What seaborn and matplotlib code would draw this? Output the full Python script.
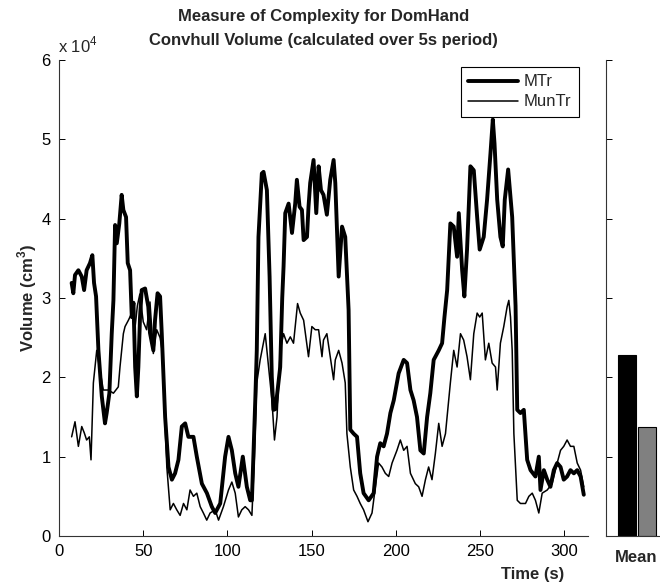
import matplotlib
matplotlib.use("Agg")
import matplotlib.pyplot as plt
import seaborn as sns
import pandas as pd

# ---------------- data (volume in units of 10^4 cm^3) ----------------
mtr_t = [7.5, 8.5, 9.5, 11.5, 13.5, 14.9, 16.4, 18.4, 19.8, 20.8, 22, 23.4, 25.4, 27.3, 28.3,
         29.9, 31.3, 32.3, 33.3, 34.3, 35.8, 37.2, 38.2, 39.8, 40.8, 42.2, 43.2, 44.2, 45.2,
         46.2, 47.1, 48.1, 49.1, 51.1, 53, 54, 56, 57, 58.5, 60, 61, 63, 65, 67, 68.9, 70.9,
         72.9, 74.9, 76.8, 79.8, 81.8, 84.8, 87.8, 90.7, 92.7, 95.7, 98.6, 100.6, 102.6,
         104.6, 106.5, 109.1, 111.5, 113.5, 114.5, 116.5, 117.4, 118.4, 120.4, 121.4, 123.4,
         125, 126.3, 127.3, 128.5, 131.3, 132.5, 133.3, 134.3, 136.3, 138.3, 140.2, 141.2,
         142.8, 144.2, 145.2, 147.2, 148.1, 149.1, 151.1, 152.7, 154.1, 155.5, 157, 159, 161,
         163, 164, 166, 168, 169.9, 171.9, 172.9, 174.9, 176.9, 178.8, 180.8, 183.8, 186.8,
         188.8, 190.7, 192.7, 194.7, 196.7, 198.7, 201.6, 204.6, 206.6, 208.6, 210.5, 212.5,
         214.5, 216.5, 218.5, 220.4, 222.4, 225.4, 227.4, 228.8, 230.4, 232.3, 234.3, 236.3,
         237.3, 239.3, 240.6, 242.2, 244.2, 246.2, 248.2, 249.7, 252.1, 254.1, 256.1, 257.5,
         258.5, 260.1, 262, 263.4, 264.6, 266.6, 269, 271, 272, 273.9, 275.9, 277.9, 279.9,
         282.8, 284.8, 285.8, 287.8, 289.8, 291.7, 293.7, 295.7, 297.7, 299.6, 301.6, 303.6,
         305.6, 307.6, 309.6, 311.5]
mtr_v = [3.19, 3.06, 3.29, 3.35, 3.27, 3.10, 3.35, 3.44, 3.54, 3.19, 3.02, 2.34, 1.76, 1.42, 1.55,
         1.80, 2.55, 2.97, 3.92, 3.69, 3.94, 4.30, 4.11, 4.02, 3.44, 3.35, 2.76, 2.94, 2.13,
         1.76, 2.13, 2.76, 3.10, 3.12, 2.89, 2.56, 2.34, 2.72, 3.06, 3.02, 2.55, 1.50, 0.87, 0.71, 0.79, 0.96,
         1.38, 1.42, 1.25, 1.25, 1.00, 0.66, 0.54, 0.37, 0.29, 0.41, 1.00, 1.25, 1.08,
         0.79, 0.62, 1.00, 0.62, 0.45, 0.45, 1.71, 2.34, 3.77, 4.57, 4.59, 4.36,
         3.27, 2.01, 1.59, 1.60, 2.13, 3.00, 3.40, 4.07, 4.19, 3.82, 4.19, 4.49,
         4.15, 4.11, 3.73, 3.77, 4.15, 4.45, 4.74, 4.07, 4.66, 4.36, 4.30, 4.05, 4.49,
         4.74, 4.45, 3.27, 3.90, 3.77, 2.85, 1.34, 1.29, 1.25, 0.79, 0.54, 0.45, 0.54,
         1.00, 1.17, 1.13, 1.29, 1.55, 1.71, 2.05, 2.22, 2.18, 1.84, 1.71, 1.50,
         1.08, 1.04, 1.50, 1.80, 2.22, 2.34, 2.43, 2.76, 3.10, 3.94, 3.90, 3.52,
         4.07, 3.35, 3.02, 3.61, 4.66, 4.61, 4.02, 3.61, 3.77, 4.24, 4.82, 5.25,
         4.95, 4.24, 3.77, 3.65, 4.24, 4.62, 4.02, 2.90, 1.59, 1.55, 1.59, 0.96, 0.83,
         0.75, 1.00, 0.58, 0.83, 0.71, 0.62, 0.83, 0.92, 0.87, 0.71, 0.75, 0.83,
         0.79, 0.83, 0.75, 0.52]

muntr_t = [7.5, 9.5, 11.5, 13.5, 15, 16.4, 18, 19, 20.4, 22.4, 24, 26.3, 29.3, 32.3, 35.2, 36.2,
           38.2, 39.2, 41.2, 43.2, 45, 46.5, 48, 50, 52, 54, 56, 58, 60, 61.5, 63, 64, 66, 67.9,
           69.9, 71.9, 73.9, 75.9, 77.8, 79.8, 81.8, 83.8, 85.7, 87.7, 89.7, 92.7, 94.7, 97.6,
           100.6, 102.6, 104.6, 106.5, 108.5, 110.5, 112.5, 114.5, 116, 117.4, 119.4, 122.4,
           124.4, 126.4, 127.9, 129.4, 131.3, 133.3, 135.3, 137.3, 139.2, 141.6, 143.2, 145.2,
           148.1, 150.1, 152.1, 154.1, 156.1, 157, 159, 161, 163, 164, 166, 168, 169.9, 170.9,
           172.9, 174.9, 176.9, 178.8, 180.8, 183.4, 185.8, 187.8, 189.7, 191.7, 193.7, 195.7,
           197.7, 200.6, 202.6, 204.6, 206.6, 208.6, 211.5, 213.5, 215.5, 217.5, 219.4, 221.4,
           223.4, 225.4, 227.4, 229.4, 232.3, 234.3, 236.3, 238.3, 240.2, 242.2, 244.2, 246.2,
           248.2, 249.7, 251.2, 253.1, 255.1, 257.1, 259.1, 260.1, 262, 264, 266, 267, 268, 269,
           270, 272, 273.9, 276.9, 278.9, 280.9, 282.8, 284.8, 286.8, 289.8, 292.7, 295.7, 297.7,
           299.6, 301.6, 303.6, 305.6, 307.6, 309.6, 311.5]
muntr_v = [1.25, 1.44, 1.13, 1.38, 1.30, 1.21, 1.25, 0.96, 1.93, 2.34, 2.13, 1.84, 1.84, 1.80, 1.88, 2.13,
           2.55, 2.64, 2.72, 2.81, 2.60, 2.90, 3.05, 2.70, 2.60, 2.95, 2.30, 2.60, 2.50, 2.30, 1.38, 0.87, 0.33, 0.41,
           0.33, 0.26, 0.41, 0.33, 0.58, 0.50, 0.54, 0.37, 0.29, 0.20, 0.29, 0.33, 0.20, 0.37,
           0.58, 0.68, 0.54, 0.24, 0.33, 0.37, 0.33, 0.26, 1.00, 1.93, 2.22, 2.55,
           2.13, 1.71, 1.21, 1.50, 2.34, 2.55, 2.43, 2.51, 2.43, 2.93, 2.81, 2.72,
           2.26, 2.64, 2.60, 2.60, 2.26, 2.47, 2.55, 2.26, 1.97, 2.22, 2.34, 2.18, 1.93, 1.29,
           0.87, 0.58, 0.50, 0.41, 0.33, 0.18, 0.29, 0.62, 0.92, 0.87, 0.79, 0.75,
           0.92, 1.08, 1.21, 1.08, 1.13, 0.79, 0.66, 0.62, 0.50, 0.71, 0.87, 0.71,
           1.04, 1.42, 1.13, 1.29, 1.93, 2.34, 2.13, 2.55, 2.47, 2.26, 1.97, 2.55,
           2.81, 2.76, 2.81, 2.22, 2.43, 2.18, 2.13, 1.84, 2.43, 2.64, 2.89, 2.97, 2.76, 2.34,
           1.29, 0.45, 0.41, 0.41, 0.50, 0.54, 0.45, 0.29, 0.54, 0.58, 0.66, 0.92, 1.08,
           1.13, 1.21, 1.13, 1.13, 0.92, 0.83, 0.62]

series_names = ["MTr", "MunTr"]
mean_values = [2.28, 1.38]
x_ticks = [0, 50, 100, 150, 200, 250, 300]
y_ticks = [0, 1, 2, 3, 4, 5, 6]

title_lines = ["Measure of Complexity for DomHand",
               "Convhull Volume (calculated over 5s period)"]

# ---------------- style ----------------
sns.set_style("white")
plt.rcParams['font.family'] = ['Liberation Sans', 'DejaVu Sans']
plt.rcParams['mathtext.fontset'] = 'custom'
plt.rcParams['mathtext.rm'] = 'Liberation Sans'
plt.rcParams['mathtext.bf'] = 'Liberation Sans:bold'

FS = 12
W, H = 660, 587
fig = plt.figure(figsize=(W / 100, H / 100), dpi=100)


def box(l, t, r, b):
    return [l / W, 1 - b / H, (r - l) / W, (b - t) / H]


ax = fig.add_axes(box(59, 60, 588, 536))
ax2 = fig.add_axes(box(606, 60, 662, 536))

sns.lineplot(x=mtr_t, y=mtr_v, ax=ax, color="black", linewidth=2.8,
             label=series_names[0], estimator=None, sort=False)
sns.lineplot(x=muntr_t, y=muntr_v, ax=ax, color="black", linewidth=1.1,
             label=series_names[1], estimator=None, sort=False)

ax.set_xlim(0, 314)
ax.set_ylim(0, 6)
ax.set_xticks(x_ticks)
ax.set_yticks(y_ticks)
ax.set_xlabel("")
ax.set_ylabel("")
for s in ["top", "right"]:
    ax.spines[s].set_visible(False)
for s in ["left", "bottom"]:
    ax.spines[s].set_linewidth(0.8)
    ax.spines[s].set_color("0.2")
ax.tick_params(direction="in", length=4, width=0.7, labelsize=FS, pad=6,
               colors="black", left=True, bottom=True)

leg = ax.legend(loc="upper right", bbox_to_anchor=(579 / W, 1 - 67 / H),
                bbox_transform=fig.transFigure, borderaxespad=0, frameon=True,
                fancybox=False, edgecolor="black", framealpha=1, fontsize=FS,
                handlelength=3.0, handletextpad=0.35, labelspacing=0.3, borderpad=0.45)
leg.get_frame().set_linewidth(0.8)

# bar (mean) panel
bar_df = pd.DataFrame({"series": series_names, "mean": mean_values})
sns.barplot(data=bar_df, x="series", y="mean", hue="series",
            palette=["black", "0.5"], ax=ax2, width=0.9,
            edgecolor="black", linewidth=0.8, legend=False)
ax2.set_xlim(-1.05, 1.75)
ax2.set_ylim(0, 6)
ax2.set_yticks(y_ticks)
ax2.set_yticklabels([])
ax2.set_xticks([])
ax2.set_xlabel("")
ax2.set_ylabel("")
for s in ["top", "right"]:
    ax2.spines[s].set_visible(False)
for s in ["left", "bottom"]:
    ax2.spines[s].set_linewidth(0.8)
    ax2.spines[s].set_color("0.2")
ax2.tick_params(direction="in", length=4, width=0.7, left=True, colors="black")


def ftext(x, y, s, **kw):
    fig.text(x / W, 1 - y / H, s, **kw)


ftext(323.5, 16, title_lines[0], ha="center", va="center", fontsize=FS, fontweight="bold")
ftext(323.5, 40, title_lines[1], ha="center", va="center", fontsize=FS, fontweight="bold")
ftext(58, 52, r"x 10$^4$", ha="left", va="baseline", fontsize=FS)
ftext(27, 298, r"Volume (cm$^\mathbf{3}$)", ha="center", va="center", rotation=90,
      fontsize=FS, fontweight="bold")
ftext(533, 575, "Time (s)", ha="center", va="center", fontsize=FS, fontweight="bold")
ftext(636, 557, "Mean", ha="center", va="center", fontsize=FS, fontweight="bold")

fig.savefig("out.png", dpi=100)
